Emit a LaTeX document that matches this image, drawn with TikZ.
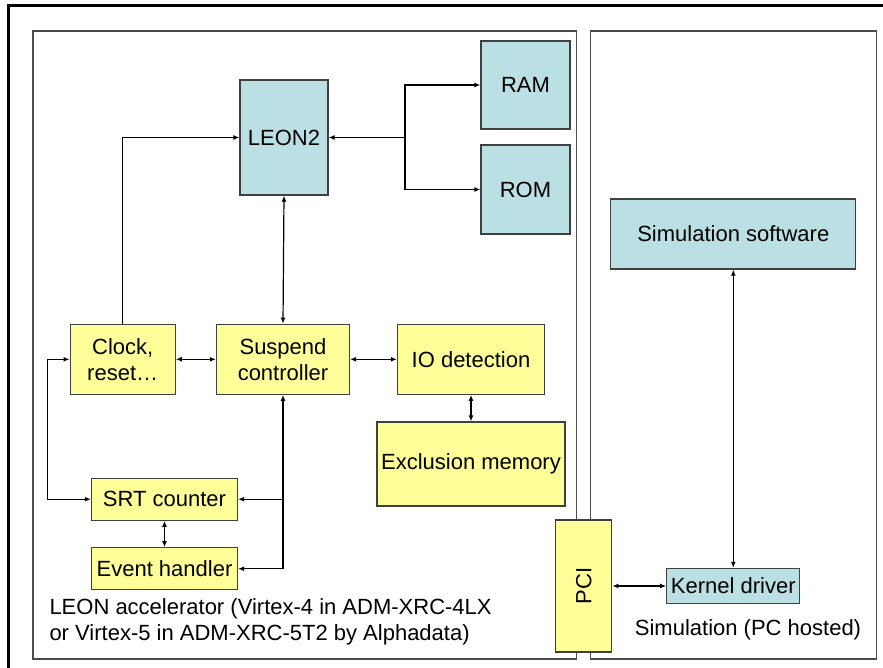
\documentclass[tikz,border=0pt]{standalone}
\usepackage{fontspec}
\setmainfont{Liberation Sans}
\usepackage{graphicx}
\usetikzlibrary{arrows.meta}
\definecolor{cpublue}{HTML}{BBE0E3}
\definecolor{ctrlyellow}{HTML}{FFFF99}
\begin{document}
\begin{tikzpicture}[x=1pt, y=-1pt,
    every node/.style={font=\fontsize{22}{25.7}\selectfont},
    blk/.style={draw=black!75, line width=1.3pt, inner sep=0pt, align=center},
    mem/.style={blk, fill=cpublue},
    ctrl/.style={blk, fill=ctrlyellow},
    panel/.style={draw=black!70, line width=1.4pt},
    link/.style={line width=1.2pt, >={Latex[length=6pt,width=5pt]}}]
    \useasboundingbox (0, 0) rectangle (883, 668);
    \draw[line width=3pt] (8.5, 668) |- (883, 6);
    \draw[panel] (33, 31) rectangle (576.7, 659);
    \draw[panel] (590.7, 31) rectangle (876.7, 659);
    % processor side
    \node[mem, minimum width=88, minimum height=115] (leon) at (284, 137.5) {LEON2};
    \node[mem, minimum width=89, minimum height=88] (ram) at (525.5, 85) {RAM};
    \node[mem, minimum width=89, minimum height=89] (rom) at (525.5, 189.5) {ROM};
    \node[ctrl, minimum width=105, minimum height=70] (clock) at (122.7, 359.3) {Clock,\\reset\ldots};
    \node[ctrl, minimum width=133, minimum height=70] (susp) at (283, 359.3) {Suspend\\controller};
    \node[ctrl, minimum width=147, minimum height=70] (io) at (471, 359.3) {IO detection};
    \node[ctrl, minimum width=188, minimum height=84] (excl) at (471, 464) {Exclusion memory};
    \node[ctrl, minimum width=146, minimum height=42] (srt) at (164.5, 499.2) {SRT counter};
    \node[ctrl, minimum width=146, minimum height=42] (evt) at (164.5, 568.7) {Event handler};
    \node[inner sep=0pt, anchor=west, align=left] (acclabel) at (49.3, 622)
        {LEON accelerator (Virtex-4 in ADM-XRC-4LX\\or Virtex-5 in ADM-XRC-5T2 by Alphadata)};
    % host side
    \node[mem, minimum width=245, minimum height=70] (sim) at (733.3, 234) {Simulation software};
    \node[mem, minimum width=133, minimum height=35] (kern) at (733.3, 586) {Kernel driver};
    \node[inner sep=0pt] (hostlabel) at (748, 630) {Simulation (PC hosted)};
    \node[ctrl, minimum width=56, minimum height=132] (pci) at (583.7, 586) {\rotatebox{90}{PCI}};
    % connections
    \coordinate (bus) at (405, 137.5);
    \draw[link, ->] (clock.north) |- (leon.west);
    \draw[link, <-] (leon.east) -- (bus);
    \draw[link, ->] (bus) |- (ram.west);
    \draw[link, ->] (bus) |- (rom.west);
    \draw[link, <->] (leon.south) -- (susp.north);
    \draw[link, <->] (clock.east) -- (susp.west);
    \draw[link, <->] (susp.east) -- (io.west);
    \draw[link, <->] (io.south) -- (excl.north);
    \draw[link, <->] (clock.west) -- ++(-22.4, 0) |- (srt.west);
    \draw[link, <->] (susp.south) |- (evt.east);
    \draw[link, ->] (susp.south |- srt.east) -- (srt.east);
    \draw[link, <->] (srt.south) -- (evt.north);
    \draw[link, <->] (sim.south) -- (kern.north);
    \draw[link, <->] (pci.east) -- (kern.west);
\end{tikzpicture}
\end{document}
